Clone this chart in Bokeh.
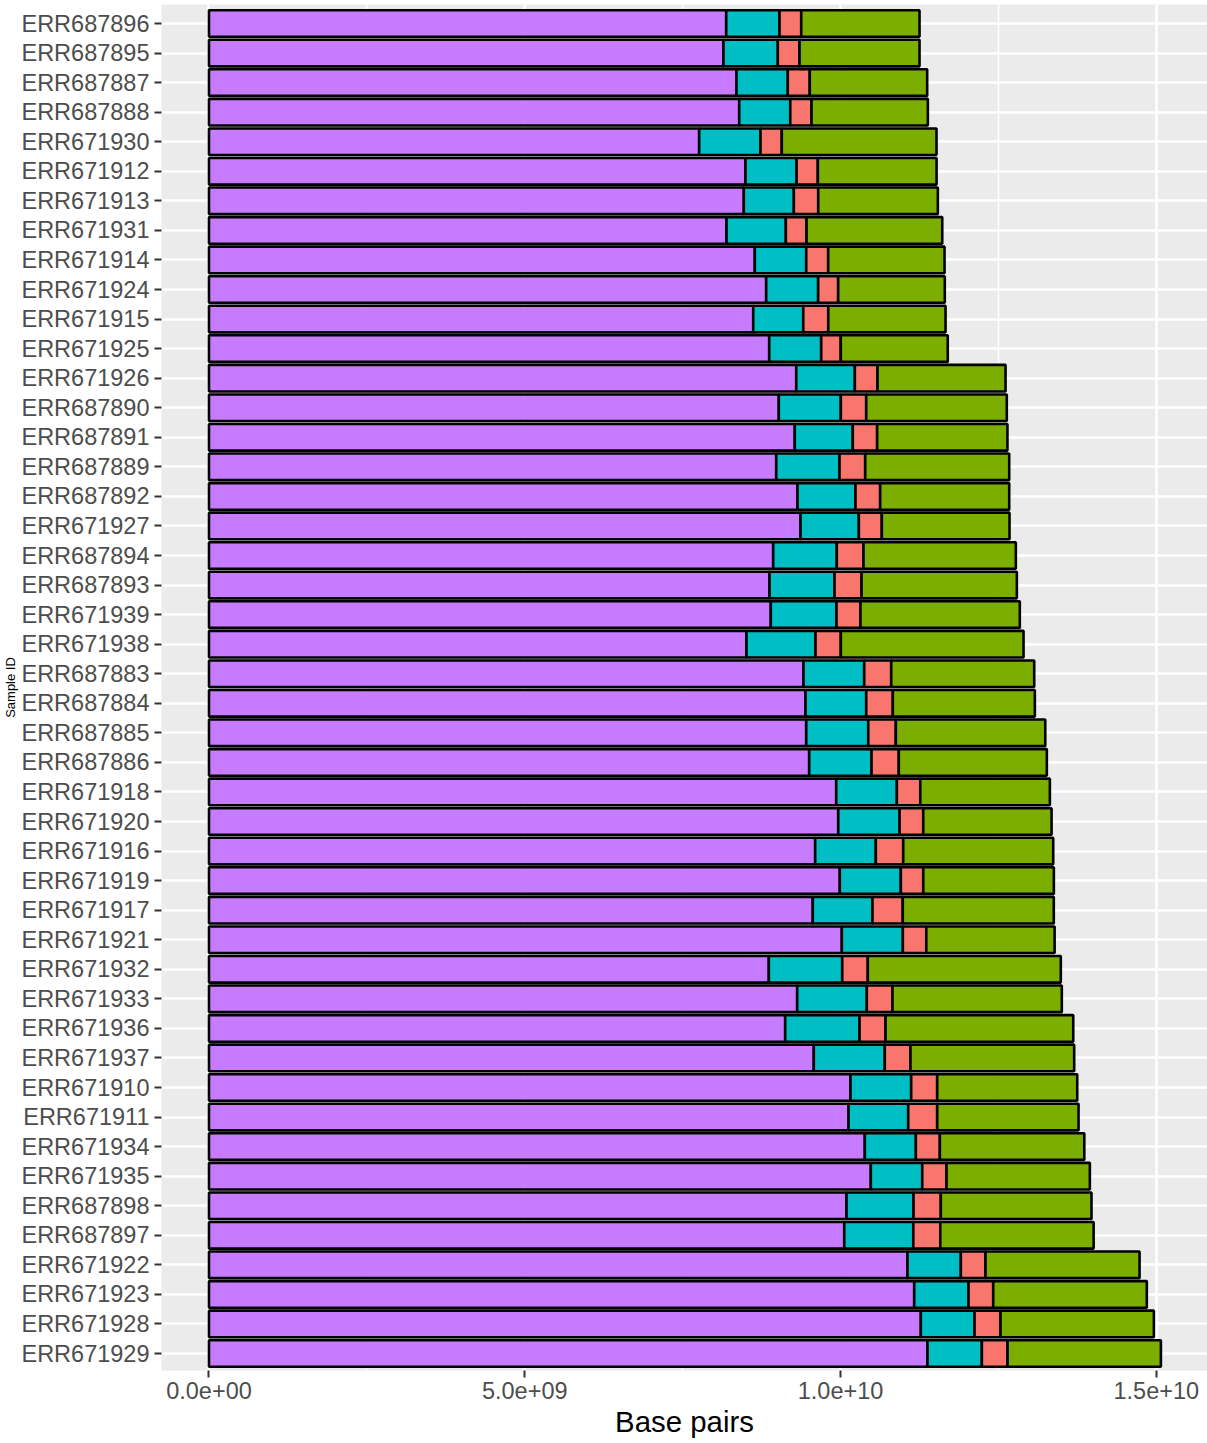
from bokeh.plotting import figure
from bokeh.models import ColumnDataSource, Range1d, FixedTicker
from bokeh.embed import file_html
from bokeh.resources import INLINE

samples = [
    "ERR687896", "ERR687895", "ERR687887", "ERR687888", "ERR671930", "ERR671912",
    "ERR671913", "ERR671931", "ERR671914", "ERR671924", "ERR671915", "ERR671925",
    "ERR671926", "ERR687890", "ERR687891", "ERR687889", "ERR687892", "ERR671927",
    "ERR687894", "ERR687893", "ERR671939", "ERR671938", "ERR687883", "ERR687884",
    "ERR687885", "ERR687886", "ERR671918", "ERR671920", "ERR671916", "ERR671919",
    "ERR671917", "ERR671921", "ERR671932", "ERR671933", "ERR671936", "ERR671937",
    "ERR671910", "ERR671911", "ERR671934", "ERR671935", "ERR687898", "ERR687897",
    "ERR671922", "ERR671923", "ERR671928", "ERR671929",
]

# base pairs per segment (in units of 1e9), left to right
seg_purple = [8.190, 8.147, 8.353, 8.396, 7.762, 8.496, 8.469, 8.195, 8.643, 8.823,
              8.618, 8.871, 9.299, 9.023, 9.276, 8.982, 9.319, 9.367, 8.934, 8.876,
              8.896, 8.511, 9.414, 9.446, 9.457, 9.504, 9.932, 9.964, 9.599, 9.989,
              9.561, 10.021, 8.865, 9.314, 9.124, 9.577, 10.158, 10.127, 10.385, 10.480,
              10.095, 10.059, 11.061, 11.167, 11.272, 11.378]
seg_cyan = [0.844, 0.860, 0.812, 0.808, 0.971, 0.808, 0.792, 0.939, 0.814, 0.823,
            0.792, 0.823, 0.928, 0.982, 0.918, 1.002, 0.918, 0.923, 1.007, 1.029,
            1.040, 1.093, 0.961, 0.961, 0.982, 0.987, 0.960, 0.971, 0.960, 0.966,
            0.945, 0.966, 1.162, 1.102, 1.177, 1.124, 0.961, 0.945, 0.808, 0.814,
            1.061, 1.093, 0.844, 0.860, 0.850, 0.860]
seg_red = [0.344, 0.344, 0.348, 0.337, 0.337, 0.337, 0.386, 0.328, 0.348, 0.317,
           0.396, 0.310, 0.359, 0.402, 0.386, 0.407, 0.391, 0.364, 0.423, 0.428,
           0.380, 0.401, 0.428, 0.421, 0.437, 0.432, 0.371, 0.375, 0.434, 0.355,
           0.480, 0.371, 0.405, 0.407, 0.412, 0.407, 0.412, 0.459, 0.380, 0.385,
           0.432, 0.428, 0.391, 0.391, 0.412, 0.407]
seg_green = [1.873, 1.900, 1.859, 1.842, 2.450, 1.880, 1.894, 2.149, 1.842, 1.688,
             1.857, 1.694, 2.027, 2.226, 2.063, 2.280, 2.043, 2.022, 2.412, 2.459,
             2.523, 2.893, 2.264, 2.249, 2.366, 2.344, 2.052, 2.032, 2.375, 2.068,
             2.391, 2.032, 3.056, 2.681, 2.972, 2.592, 2.217, 2.238, 2.287, 2.269,
             2.386, 2.428, 2.439, 2.432, 2.428, 2.428]

x_ticks = [0, 5000000000, 10000000000, 15000000000]
x_tick_labels = ["0.0e+00", "5.0e+09", "1.0e+10", "1.5e+10"]
x_minor = [2500000000, 7500000000, 12500000000]

UNIT = 1e9
n = len(samples)
ypos = [n - i for i in range(n)]

source = ColumnDataSource(dict(
    y=ypos,
    sample=samples,
    purple=[v * UNIT for v in seg_purple],
    cyan=[v * UNIT for v in seg_cyan],
    red=[v * UNIT for v in seg_red],
    green=[v * UNIT for v in seg_green],
))

FONT = "Liberation Sans"

p = figure(width=1207, height=1443, output_backend="svg", toolbar_location=None,
           x_range=Range1d(-0.752e9, 15.811e9), y_range=Range1d(0.425, 46.643),
           min_border_left=161, min_border_right=0, min_border_top=4,
           min_border_bottom=73)

p.background_fill_color = "#EBEBEB"
p.border_fill_color = "white"
p.outline_line_color = None

p.hbar_stack(["purple", "cyan", "red", "green"], y="y", height=0.9,
             fill_color=["#C77CFF", "#00BFC4", "#F8766D", "#7CAE00"],
             line_color="black", line_width=2.6, source=source)

# axes
p.xaxis.ticker = FixedTicker(ticks=x_ticks, minor_ticks=x_minor)
p.xaxis.major_label_overrides = {t: l for t, l in zip(x_ticks, x_tick_labels)}
p.yaxis.ticker = FixedTicker(ticks=ypos)
p.yaxis.major_label_overrides = {yv: s for yv, s in zip(ypos, samples)}

for ax in (p.xaxis, p.yaxis):
    ax.axis_line_color = None
    ax.major_tick_in = 0
    ax.major_tick_out = 7
    ax.major_tick_line_color = "#333333"
    ax.major_tick_line_width = 2
    ax.minor_tick_in = 0
    ax.minor_tick_out = 0
    ax.major_label_text_font = FONT
    ax.major_label_text_font_size = "23.5px"
    ax.major_label_text_color = "#4D4D4D"
    ax.axis_label_text_font = FONT
    ax.axis_label_text_font_style = "normal"
    ax.axis_label_text_color = "black"
p.yaxis.major_label_standoff = 5
p.xaxis.major_label_standoff = 4

p.xaxis.axis_label = "Base pairs"
p.xaxis.axis_label_text_font_size = "29.4px"
p.xaxis.axis_label_standoff = 3

p.yaxis.axis_label = "Sample ID"
p.yaxis.axis_label_text_font_size = "13px"
p.yaxis.axis_label_standoff = 0

p.xgrid.grid_line_color = "white"
p.xgrid.grid_line_width = 2.6
p.xgrid.minor_grid_line_color = "white"
p.xgrid.minor_grid_line_width = 1.4
p.ygrid.grid_line_color = "white"
p.ygrid.grid_line_width = 2.6

open("out.html", "w").write(file_html(p, INLINE))
